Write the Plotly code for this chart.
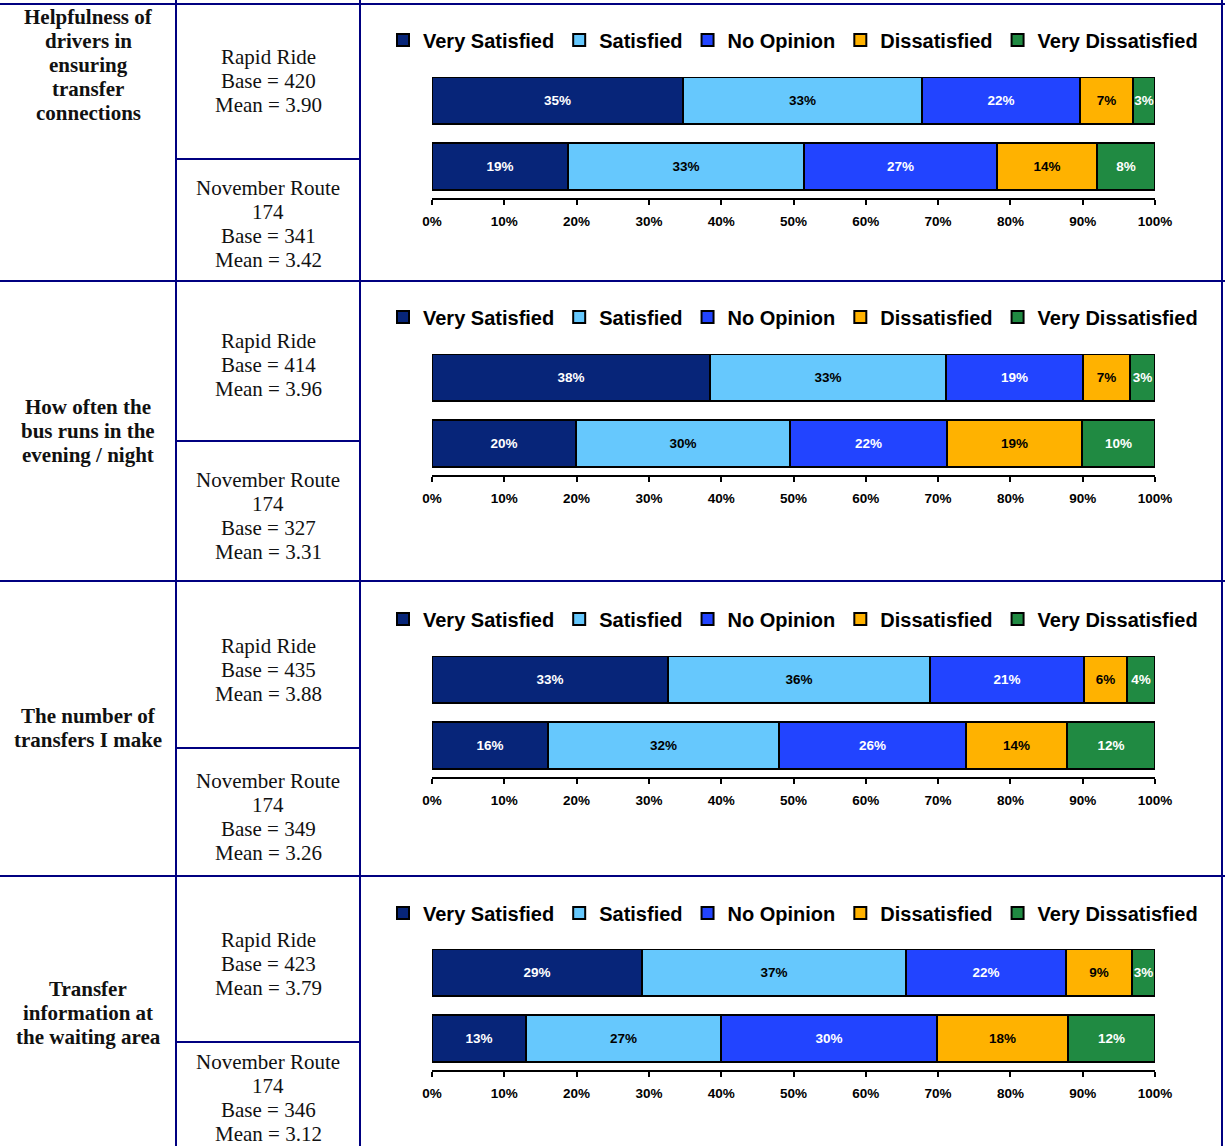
import plotly.graph_objects as go

W, H = 1225, 1146

# ---- data -------------------------------------------------------------
categories = ["Very Satisfied", "Satisfied", "No Opinion", "Dissatisfied", "Very Dissatisfied"]
colors = ["#072579", "#66c8fd", "#2244ff", "#ffb200", "#208a42"]
label_colors = ["white", "black", "white", "black", "white"]

questions = [
    ["Helpfulness of", "drivers in", "ensuring", "transfer", "connections"],
    ["How often the", "bus runs in the", "evening / night"],
    ["The number of", "transfers I make"],
    ["Transfer", "information at", "the waiting area"],
]
group_names = [["Rapid Ride"], ["November Route", "174"]]
rapid_base = [420, 414, 435, 423]
rapid_mean = [3.90, 3.96, 3.88, 3.79]
route_base = [341, 327, 349, 346]
route_mean = [3.42, 3.31, 3.26, 3.12]

# percent shares per question, in category order
rapid_pct = [
    [34.7, 33.1, 21.8, 7.4, 3.0],
    [38.4, 32.7, 18.9, 6.6, 3.4],
    [32.6, 36.3, 21.3, 5.9, 3.9],
    [29.0, 36.6, 22.1, 9.1, 3.2],
]
route_pct = [
    [18.8, 32.7, 26.6, 13.9, 8.0],
    [19.9, 29.6, 21.7, 18.7, 10.1],
    [16.0, 32.0, 25.9, 13.9, 12.2],
    [13.0, 27.0, 29.8, 18.2, 12.0],
]
x_ticks = list(range(0, 101, 10))

# ---- table geometry (pixels) -----------------------------------------
row_tops = [4, 281, 581, 876]
row_mids = [159, 441, 748, 1042]
col_lines = [176, 360, 1222]
chart_spans = [(77, 198), (354, 475), (656, 777), (949, 1070)]
legend_centers = [40, 317, 619, 913]
question_centers = [65, 431, 728, 1013]
rapid_centers = [81, 365, 670, 964]
route_centers = [224, 516, 817, 1098]
plot_left, plot_right = 432, 1155
line_step = 24

NAVY = "#000080"
SANS = "Liberation Sans, Arial, sans-serif"
SERIF = "Liberation Serif, Times New Roman, serif"
INK = "#111111"
SMALL = 13.5


def px_x(p):
    return p / W


def px_y(p):
    return 1 - p / H


fig = go.Figure()

for i in range(4):
    ax = "" if i == 0 else str(i + 1)
    leg = "legend" if i == 0 else f"legend{i + 1}"
    for c, cat in enumerate(categories):
        fig.add_trace(go.Bar(
            x=[route_pct[i][c], rapid_pct[i][c]],
            y=[0, 1],
            orientation="h",
            name=cat,
            width=0.72,
            marker=dict(color=colors[c], line=dict(color="black", width=2)),
            texttemplate="%{x:.0f}%",
            textposition="inside",
            insidetextanchor="middle",
            textangle=0,
            textfont=dict(family=SANS, size=SMALL, weight="bold", color=label_colors[c]),
            hoverinfo="skip",
            xaxis="x" + ax,
            yaxis="y" + ax,
            legend=leg,
            showlegend=True,
        ))

layout = dict(
    width=W,
    height=H,
    margin=dict(l=0, r=0, t=0, b=0, autoexpand=False),
    paper_bgcolor="white",
    plot_bgcolor="white",
    barmode="stack",
    bargap=0,
    uniformtext=dict(minsize=SMALL, mode="show"),
    showlegend=True,
)

for i, (top, axis_y) in enumerate(chart_spans):
    ax = "" if i == 0 else str(i + 1)
    layout["xaxis" + ax] = dict(
        domain=[px_x(plot_left), px_x(plot_right)],
        anchor="y" + ax,
        range=[0, 100],
        tickvals=x_ticks,
        ticktext=[f"{t}%" for t in x_ticks],
        ticks="outside",
        ticklen=5,
        tickwidth=2,
        tickcolor="black",
        ticklabelstandoff=5,
        tickfont=dict(family=SANS, size=SMALL, weight="bold", color="black"),
        showline=True,
        linecolor="black",
        linewidth=2,
        showgrid=False,
        zeroline=False,
        fixedrange=True,
    )
    layout["yaxis" + ax] = dict(
        domain=[px_y(axis_y), px_y(top)],
        anchor="x" + ax,
        range=[-0.48, 1.36],
        visible=False,
        fixedrange=True,
    )
    leg = "legend" if i == 0 else f"legend{i + 1}"
    layout[leg] = dict(
        orientation="h",
        x=px_x(383),
        xanchor="left",
        y=px_y(legend_centers[i]),
        yanchor="middle",
        traceorder="normal",
        font=dict(family=SANS, size=20, weight="bold", color="black"),
        bgcolor="rgba(0,0,0,0)",
        itemclick=False,
        itemdoubleclick=False,
    )

fig.update_layout(**layout)

# table grid
shapes = []
for y in row_tops:
    shapes.append(dict(type="line", xref="paper", yref="paper",
                       x0=0, x1=1, y0=px_y(y), y1=px_y(y),
                       line=dict(color=NAVY, width=2)))
for x in col_lines:
    shapes.append(dict(type="line", xref="paper", yref="paper",
                       x0=px_x(x), x1=px_x(x), y0=0, y1=1,
                       line=dict(color=NAVY, width=2)))
for y in row_mids:
    shapes.append(dict(type="line", xref="paper", yref="paper",
                       x0=px_x(col_lines[0]), x1=px_x(col_lines[1]),
                       y0=px_y(y), y1=px_y(y),
                       line=dict(color=NAVY, width=2)))
fig.update_layout(shapes=shapes)


def add_text_block(lines, x_center, y_center, bold):
    """Stack text lines centred on (x_center, y_center) with a fixed line step."""
    n = len(lines)
    for k, line in enumerate(lines):
        y = y_center + (k - (n - 1) / 2) * line_step
        fig.add_annotation(
            text=line, x=px_x(x_center), y=px_y(y),
            xref="paper", yref="paper", showarrow=False,
            xanchor="center", yanchor="middle",
            font=dict(family=SERIF, size=21, weight="bold" if bold else "normal", color=INK),
        )


q_x = col_lines[0] / 2
g_x = (col_lines[0] + col_lines[1]) / 2
for i in range(4):
    add_text_block(questions[i], q_x, question_centers[i], True)
    add_text_block(group_names[0] + [f"Base = {rapid_base[i]}", f"Mean = {rapid_mean[i]:.2f}"],
                   g_x, rapid_centers[i], False)
    add_text_block(group_names[1] + [f"Base = {route_base[i]}", f"Mean = {route_mean[i]:.2f}"],
                   g_x, route_centers[i], False)

fig.write_html("out.html")
